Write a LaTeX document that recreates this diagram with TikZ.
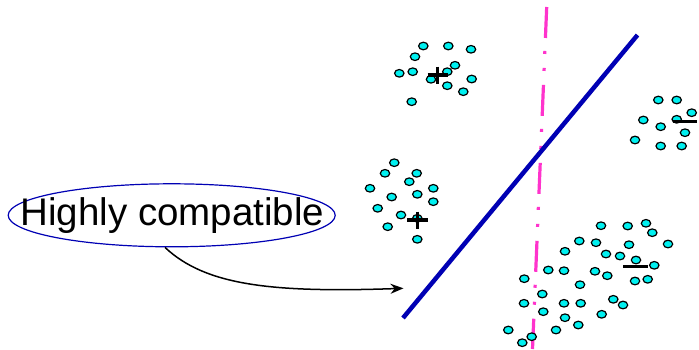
\documentclass[tikz,border=0pt]{standalone}
\usepackage{fontspec}
\setmainfont{Liberation Sans}
\usetikzlibrary{shapes.geometric,arrows.meta}
\definecolor{sepblue}{HTML}{0000B4}
\definecolor{pinkline}{HTML}{FF33CC}
\definecolor{dotcyan}{HTML}{00F0F0}
\tikzset{
  dot/.style={fill=dotcyan,draw=black,line width=1.2pt},
  sign/.style={draw=black,line width=3.5pt},
  sepline/.style={draw=sepblue,line width=4.5pt},
  altline/.style={draw=pinkline,line width=3.2pt,dash pattern=on 31pt off 13pt on 3pt off 14pt on 3pt off 14pt},
  labelring/.style={ellipse,draw=sepblue,line width=1.2pt,minimum width=327pt,minimum height=63pt,inner sep=0pt},
  labeltext/.style={inner sep=0pt,font=\fontsize{38.5}{42}\selectfont},
  conn/.style={draw=black,line width=1.5pt,-{Stealth[length=13pt,width=10pt]}}
}
\begin{document}
\begin{tikzpicture}[x=1pt,y=-1pt]
\fill[white] (0,0) rectangle (699,349);
\useasboundingbox (0,0) rectangle (699,349);
% lines
\draw[altline] (546.7,7) -- (532.5,349);
\draw[sepline] (403,318) -- (637.5,35);
% dots
\foreach \x/\y in {423.3/46,448.3/46,471/49.3,415/56.7,455/65.3,399.3/73.3,412.7/71.7,447.3/71.7,431/79.3,471.7/79,447.3/85.7,463.3/91.7,411.7/101.7,
394.3/162.7,385/173.3,416.7/173.3,409.3/181.7,370/188.3,391.7/197,417.3/194.3,433.3/188.3,433.3/201.7,377.7/208.3,401/215,417.3/218.3,387.7/226.7,417.3/239.3,
658.3/100,676.7/100,691.7/112.7,643.3/120,676.7/119.3,660.7/126.7,685/132.7,635/140,660.7/146,681.7/146,
601/225.7,627.7/226,646/223.3,652.3/232.7,579.3/241,596/242.7,629/244.7,668/244,565/251.3,606/254,620/256,636/260,654.3/265.3,548.3/270,564/270.7,595/271.3,607.3/275.7,524.3/278.7,635/281,647.7/279.3,580/284.7,542.3/294,524/303.3,564/303.3,580.7/303.3,613.3/299.3,623/305,543.3/311.7,565/317.7,601.7/314.3,578.3/325,556/330,508.3/330,531.7/336.7,522.3/342.7}
  \path[dot] (\x,\y) ellipse [x radius=4.7pt,y radius=3.8pt];
% plus and minus signs
\draw[sign] (427.5,75) -- (447.5,75) (437.5,66.5) -- (437.5,83.5);
\draw[sign] (407,220) -- (428,220) (417.5,211.5) -- (417.5,228.5);
\draw[sign] (673.3,121.7) -- (697.3,121.7);
\draw[sign] (623.3,266.7) -- (648.3,266.7);
% label and connector
\node[labelring] (hc) at (171.7,215.3) {};
\node[labeltext] (hctext) at (172.5,215.5) {Highly compatible};
\coordinate (tip) at (403.5,288.3);
\draw[conn] ([xshift=-6.7pt]hc.south) .. controls (205,285) and (270,293) .. (tip);
\end{tikzpicture}
\end{document}
